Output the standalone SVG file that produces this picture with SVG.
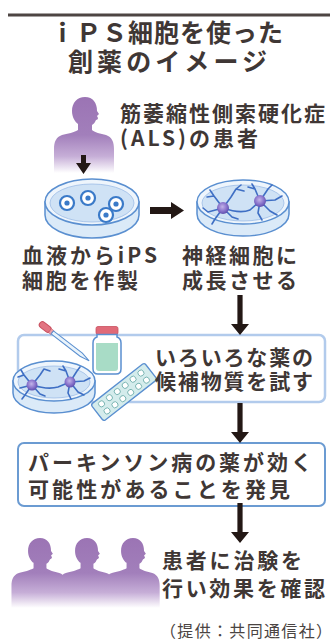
<svg xmlns="http://www.w3.org/2000/svg" xmlns:xlink="http://www.w3.org/1999/xlink" width="334" height="641" viewBox="0 0 334 641">
  <style>
    .t { font-family: "Noto Sans CJK JP", "Noto Sans", sans-serif; font-weight: 700; fill: #3f3735; }
    .title { font-size: 25px; }
    .body { font-size: 21px; }
    .credit { font-size: 16px; fill: #4a4442; font-weight: 400; }
    .arrow { fill: #231815; }
    .dish-side { fill: #dbeaf8; stroke: #5a8fd0; stroke-width: 1.5; }
    .dish-top { fill: #eef5fc; stroke: #5a8fd0; stroke-width: 1.5; }
    .dish-floor { fill: #cfe2f5; stroke: #9dbde6; stroke-width: 0.8; }
    .dend { fill: none; stroke: #3f6fc4; stroke-width: 1.6; stroke-linecap: round; stroke-linejoin: round; }
    .soma { fill: url(#somaGrad); }
    .cell { fill: #ffffff; stroke: #3a7ac8; stroke-width: 2.2; }
    .nucleus { fill: #3a7ac8; }
    .box1 { fill: #ffffff; stroke: #b2cbec; stroke-width: 2.5; }
    .box2 { fill: #ffffff; stroke: #6b9bd2; stroke-width: 2; }
    .person { fill: url(#personGrad); }
  </style>
  <defs>
    <linearGradient id="personGrad" x1="0" y1="0" x2="0" y2="1">
      <stop offset="0" stop-color="#9b74b4"/>
      <stop offset="0.5" stop-color="#a27fbb"/>
      <stop offset="0.78" stop-color="#c6aed7"/>
      <stop offset="1" stop-color="#ffffff"/>
    </linearGradient>
    <radialGradient id="somaGrad" cx="0.45" cy="0.4" r="0.6">
      <stop offset="0" stop-color="#c3b3e8"/>
      <stop offset="0.6" stop-color="#8a74cc"/>
      <stop offset="1" stop-color="#5e4fae"/>
    </radialGradient>
    <!-- silhouette: origin at top of head -->
    <path id="person" class="person" d="M0,0 C-8,0 -13,6 -13,14 C-13,20 -10,25 -7,27 L-7,33 C-10,35 -18,37 -23,38 C-29,40 -31,45 -31,52 L-31,76 L29,76 L29,52 C29,45 27,40 21,38 C16,37 9,35 7,33 L7,28 C9,27 10,25 11,23 C12,23 13,22 13,21 L12,19 L14,17 L12,14 C12,6 8,0 0,0 Z"/>
    <!-- thick downward arrow, tip at origin -->
    <path id="arrowDown" class="arrow" d="M-2.6,-40 L2.6,-40 L2.6,-11 L9,-11 L0,0 L-9,-11 L-2.6,-11 Z"/>
  </defs>

  <!-- heading -->
  <g id="title">
    <rect x="8" y="13.5" width="322" height="3" fill="#4d4543"/>
    <text class="t title" x="50" y="42" textLength="233" lengthAdjust="spacing">ｉＰＳ細胞を使った</text>
    <text class="t title" x="68" y="71" textLength="199" lengthAdjust="spacing">創薬のイメージ</text>
  </g>

  <!-- ALS patient -->
  <g id="patient">
    <use xlink:href="#person" href="#person" transform="translate(85,97)"/>
    <text class="t body" x="120" y="121" textLength="205" lengthAdjust="spacing">筋萎縮性側索硬化症</text>
    <text class="t body" x="120" y="146" textLength="138" lengthAdjust="spacing">(ALS)の患者</text>
  </g>

  <!-- iPS cells dish -->
  <g id="ips-dish">
    <path class="dish-side" d="M45,202 L45,215 A47,23 0 0 0 139,215 L139,202 Z"/>
    <ellipse class="dish-top" cx="92" cy="202" rx="47" ry="23"/>
    <ellipse class="dish-floor" cx="92" cy="203" rx="42" ry="19"/>
    <circle class="cell" cx="67" cy="203" r="7"/><circle class="nucleus" cx="67" cy="203" r="2.6"/>
    <circle class="cell" cx="88" cy="198" r="7"/><circle class="nucleus" cx="88" cy="198" r="2.6"/>
    <circle class="cell" cx="116" cy="204" r="7"/><circle class="nucleus" cx="116" cy="204" r="2.6"/>
    <circle class="cell" cx="106" cy="215" r="7"/><circle class="nucleus" cx="106" cy="215" r="2.6"/>
    <text class="t body" x="22" y="263" textLength="135" lengthAdjust="spacing">血液からiPS</text>
    <text class="t body" x="22" y="288" textLength="116" lengthAdjust="spacing">細胞を作製</text>
  </g>

  <!-- nerve cells dish -->
  <g id="neuron-dish">
    <path class="dish-side" d="M197,202 L197,214 A46,22 0 0 0 289,214 L289,202 Z"/>
    <ellipse class="dish-top" cx="243" cy="202" rx="46" ry="22"/>
    <ellipse class="dish-floor" cx="243" cy="203" rx="41" ry="18"/>
    <path class="dend" d="M223,208 L214,196 L210,190 M214,196 L207,197 M223,208 L208,212 L203,208 M223,208 L215,219 L212,224 M223,208 L232,217 L238,219 M223,208 L231,197 L236,189 L241,185 M236,189 L244,191 M223,208 Q240,214 250,210 L260,201 M260,201 L255,189 L252,184 M255,189 L248,187 M260,201 L268,189 L272,185 M260,201 L275,200 L282,196 M260,201 L270,211 L277,215 M260,201 L258,213 L262,220"/>
    <circle class="soma" cx="223" cy="208" r="6"/>
    <circle class="soma" cx="260" cy="201" r="6"/>
    <text class="t body" x="182" y="263" textLength="115" lengthAdjust="spacing">神経細胞に</text>
    <text class="t body" x="182" y="288" textLength="115" lengthAdjust="spacing">成長させる</text>
  </g>

  <!-- drug candidate testing -->
  <g id="drug-test">
    <rect class="box1" x="18" y="335" width="307" height="67" rx="6"/>
    <!-- pipette -->
    <g transform="translate(40,323) rotate(37.6)">
      <rect x="0" y="-3.2" width="13" height="6.4" rx="3" fill="#e27582" stroke="#c9505f" stroke-width="1"/>
      <rect x="12.5" y="-2.4" width="3" height="4.8" fill="#e9a0a8" stroke="#c9505f" stroke-width="0.6"/>
      <path d="M15.5,-1.9 L52,-1.9 L62,0 L52,1.9 L15.5,1.9 Z" fill="#eaf4fb" stroke="#5a8fd0" stroke-width="1"/>
    </g>
    <!-- bottle -->
    <g>
      <rect x="96" y="326.5" width="22" height="8" rx="2" fill="#e06a78" stroke="#c9505f" stroke-width="0.8"/>
      <path d="M97,334.5 L117,334.5 L117,337 C120,338 121,340 121,343 L121,369 C121,372 119,374 116,374 L98,374 C95,374 93,372 93,369 L93,343 C93,340 94,338 97,337 Z" fill="#ffffff" stroke="#5a8fd0" stroke-width="1.5"/>
      <path d="M96,343 L118,343 L118,368 C118,370 117,371 115,371 L99,371 C97,371 96,370 96,368 Z" fill="#a8dcc6"/>
    </g>
    <!-- culture dish -->
    <path class="dish-side" d="M13,381 L13,393 A41,20 0 0 0 95,393 L95,381 Z"/>
    <ellipse class="dish-top" cx="54" cy="381" rx="41" ry="20"/>
    <ellipse class="dish-floor" cx="54" cy="382" rx="36" ry="16"/>
    <path class="dend" d="M32,385 L24,375 L21,370 M24,375 L18,377 M32,385 L20,388 M32,385 L25,395 L22,399 M32,385 L40,394 L45,396 M32,385 L40,375 L44,369 M44,369 L50,371 M32,385 Q48,390 58,387 L70,382 M70,382 L66,371 L63,366 M66,371 L59,369 M70,382 L77,371 L80,367 M70,382 L84,381 L90,378 M70,382 L78,392 L84,395 M70,382 L68,393 L71,399"/>
    <circle class="soma" cx="32" cy="385" r="5.5"/>
    <circle class="soma" cx="70" cy="382" r="5.5"/>
    <!-- blister pack -->
    <g transform="translate(124,392) rotate(-38)">
      <rect x="-34" y="-10.5" width="68" height="21" rx="2.5" fill="#d4ecec" stroke="#5a8fd0" stroke-width="1.3"/>
      <g fill="#ffffff" stroke="#68aaa8" stroke-width="0.8">
        <circle cx="-25" cy="-4.5" r="3"/><circle cx="-15" cy="-4.5" r="3"/><circle cx="-5" cy="-4.5" r="3"/><circle cx="5" cy="-4.5" r="3"/><circle cx="15" cy="-4.5" r="3"/><circle cx="25" cy="-4.5" r="3"/>
        <circle cx="-25" cy="4.5" r="3"/><circle cx="-15" cy="4.5" r="3"/><circle cx="-5" cy="4.5" r="3"/><circle cx="5" cy="4.5" r="3"/><circle cx="15" cy="4.5" r="3"/><circle cx="25" cy="4.5" r="3"/>
      </g>
    </g>
    <text class="t body" x="155" y="365" textLength="158" lengthAdjust="spacing">いろいろな薬の</text>
    <text class="t body" x="155" y="389" textLength="158" lengthAdjust="spacing">候補物質を試す</text>
  </g>

  <!-- finding -->
  <g id="finding">
    <rect class="box2" x="18" y="443" width="307" height="63" rx="6"/>
    <text class="t body" x="28" y="470" textLength="284" lengthAdjust="spacing">パーキンソン病の薬が効く</text>
    <text class="t body" x="28" y="497" textLength="262" lengthAdjust="spacing">可能性があることを発見</text>
  </g>

  <!-- clinical trial -->
  <g id="trial">
    <use xlink:href="#person" href="#person" transform="translate(40,538) scale(0.92)"/>
    <use xlink:href="#person" href="#person" transform="translate(87,538) scale(0.92)"/>
    <use xlink:href="#person" href="#person" transform="translate(133,538) scale(0.92)"/>
    <text class="t body" x="162" y="568" textLength="140" lengthAdjust="spacing">患者に治験を</text>
    <text class="t body" x="162" y="596" textLength="163" lengthAdjust="spacing">行い効果を確認</text>
  </g>

  <!-- connectors -->
  <g id="connectors">
    <path class="arrow" d="M81,155 L86,155 L86,163 L91,163 L83.5,174 L76,163 L81,163 Z"/>
    <path class="arrow" d="M150,207 L171,207 L171,202 L184,210.5 L171,219 L171,214 L150,214 Z"/>
    <use xlink:href="#arrowDown" href="#arrowDown" transform="translate(240,335)"/>
    <use xlink:href="#arrowDown" href="#arrowDown" transform="translate(240,443)"/>
    <use xlink:href="#arrowDown" href="#arrowDown" transform="translate(240,543)"/>
  </g>

  <g id="credit">
    <text class="t credit" x="160" y="637" textLength="172" lengthAdjust="spacing">（提供：共同通信社）</text>
  </g>
</svg>
